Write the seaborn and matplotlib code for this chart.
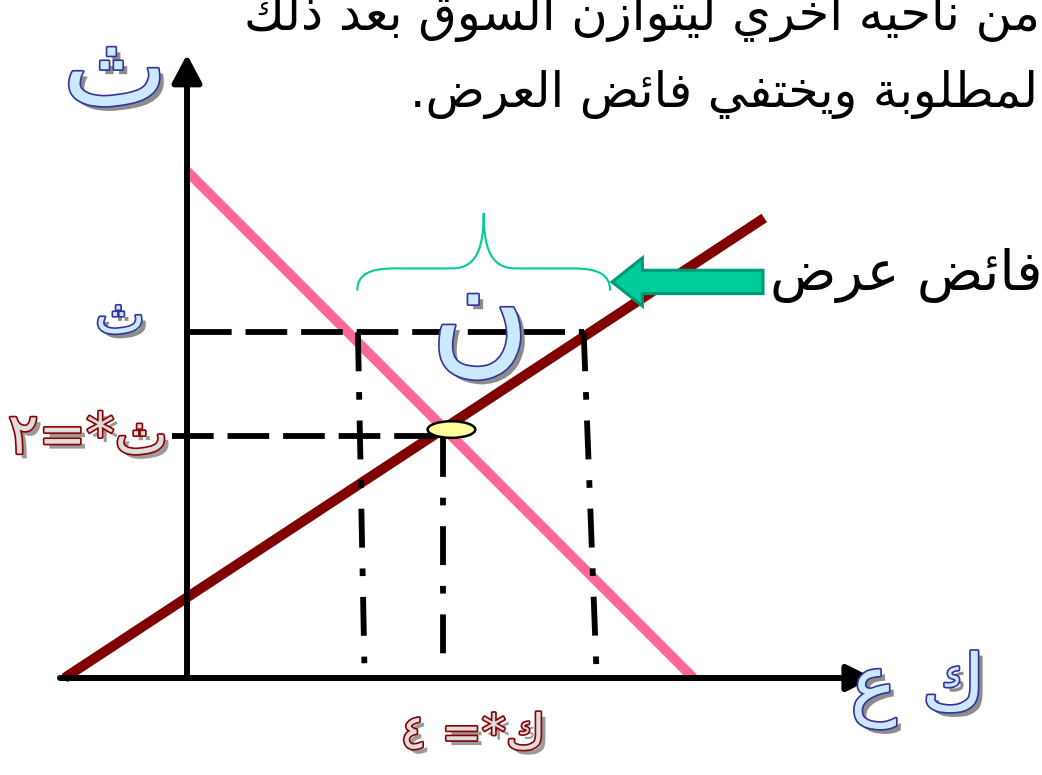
import matplotlib
matplotlib.use("Agg")
import matplotlib.pyplot as plt
import matplotlib.patheffects as pe
from matplotlib.patches import Ellipse, FancyArrow, PathPatch
from matplotlib.path import Path
import seaborn as sns
import pandas as pd

# ---------------- data (economic units: Q quantity, P price) ----------------
supply_q = [-1.9, 8.95]
supply_p = [0.0, 3.74]
demand_q = [0.0, 7.85]
demand_p = [4.12, 0.0]
eq_q, eq_p = 4.0, 2.0          # equilibrium  ك* = ٤ , ث* = ٢
p_high = 2.81                   # price above equilibrium
qd_high = [2.65, 2.75]          # quantity demanded at p_high (top, bottom)
qs_high = [6.15, 6.35]          # quantity supplied at p_high (top, bottom)

title_lines = ["من ناحيه أخري ليتوازن السوق بعد ذلك",
               "المطلوبة ويختفي فائض العرض."]
surplus_label = "فائض عرض"
price_axis = "ث"
qty_axis = "ك ع"
price_high_label = "ث"
eq_price_label = "ث*=٢"
eq_qty_label = "ك*= ٤"
gap_label = "ن"

# ---------------- minimal Arabic shaping (presentation forms, RTL) ----------
FORMS = {
    'ا': ('\uFE8D', '\uFE8E', None, None), 'أ': ('\uFE83', '\uFE84', None, None),
    'ب': ('\uFE8F', '\uFE90', '\uFE91', '\uFE92'), 'ة': ('\uFE93', '\uFE94', None, None),
    'ت': ('\uFE95', '\uFE96', '\uFE97', '\uFE98'), 'ث': ('\uFE99', '\uFE9A', '\uFE9B', '\uFE9C'),
    'ح': ('\uFEA1', '\uFEA2', '\uFEA3', '\uFEA4'), 'خ': ('\uFEA5', '\uFEA6', '\uFEA7', '\uFEA8'),
    'د': ('\uFEA9', '\uFEAA', None, None), 'ذ': ('\uFEAB', '\uFEAC', None, None),
    'ر': ('\uFEAD', '\uFEAE', None, None), 'ز': ('\uFEAF', '\uFEB0', None, None),
    'س': ('\uFEB1', '\uFEB2', '\uFEB3', '\uFEB4'), 'ض': ('\uFEBD', '\uFEBE', '\uFEBF', '\uFEC0'),
    'ط': ('\uFEC1', '\uFEC2', '\uFEC3', '\uFEC4'), 'ع': ('\uFEC9', '\uFECA', '\uFECB', '\uFECC'),
    'ف': ('\uFED1', '\uFED2', '\uFED3', '\uFED4'), 'ق': ('\uFED5', '\uFED6', '\uFED7', '\uFED8'),
    'ك': ('\uFED9', '\uFEDA', '\uFEDB', '\uFEDC'), 'ل': ('\uFEDD', '\uFEDE', '\uFEDF', '\uFEE0'),
    'م': ('\uFEE1', '\uFEE2', '\uFEE3', '\uFEE4'), 'ن': ('\uFEE5', '\uFEE6', '\uFEE7', '\uFEE8'),
    'ه': ('\uFEE9', '\uFEEA', '\uFEEB', '\uFEEC'), 'و': ('\uFEED', '\uFEEE', None, None),
    'ي': ('\uFEF1', '\uFEF2', '\uFEF3', '\uFEF4'), 'ئ': ('\uFE89', '\uFE8A', '\uFE8B', '\uFE8C'),
}


def shape(s):
    out = []
    n = len(s)
    for i, c in enumerate(s):
        if c not in FORMS:
            out.append(c)
            continue
        f = FORMS[c]
        prev = s[i - 1] if i > 0 else None
        nxt = s[i + 1] if i < n - 1 else None
        jp = prev in FORMS and FORMS[prev][2] is not None
        jn = f[2] is not None and nxt in FORMS
        if jp and jn:
            g = f[3]
        elif jp:
            g = f[1]
        elif jn:
            g = f[2]
        else:
            g = f[0]
        out.append(g)
    return ''.join(reversed(out))


# ---------------- figure / axes ----------------
sns.set_theme(style="white")
plt.rcParams['font.family'] = ['DejaVu Sans']
plt.rcParams['lines.scale_dashes'] = False

W, H = 1042, 775
fig = plt.figure(figsize=(W / 100, H / 100), dpi=100)
ax = fig.add_axes([0, 0, 1, 1])
ORX, ORY, SX, SY = 187, 678, 64.5, 123.0   # pixel origin and pixels per unit
ax.set_xlim(-ORX / SX, (W - ORX) / SX)
ax.set_ylim((ORY - H) / SY, ORY / SY)
ax.axis("off")


def px(x, y):
    return x / W, 1 - y / H


# supply & demand curves
sns.lineplot(x=supply_q, y=supply_p, ax=ax, color="#800000", linewidth=7.2,
             solid_capstyle="butt", zorder=3)
sns.lineplot(x=demand_q, y=demand_p, ax=ax, color="#ff6699", linewidth=7.2,
             solid_capstyle="butt", zorder=3)

# guides
dash = (0, (30, 10))
dashdot = (0, (28, 15, 5.5, 15))
ax.plot([0.05, qs_high[0]], [p_high, p_high], color="black", lw=4.2,
        linestyle=dash, dash_capstyle="butt", zorder=4)
ax.plot([-0.23, eq_q], [eq_p - 0.03, eq_p - 0.03], color="black", lw=4.2,
        linestyle=dash, dash_capstyle="butt", zorder=4)
ax.plot(qd_high, [p_high, 0.12], color="black", lw=4.2, linestyle=dashdot,
        dash_capstyle="butt", zorder=4)
ax.plot([eq_q - 0.03, eq_q - 0.03], [eq_p - 0.05, 0.12], color="black", lw=4.2,
        linestyle=dashdot, dash_capstyle="butt", zorder=4)
ax.plot(qs_high, [p_high, 0.03], color="black", lw=4.2, linestyle=dashdot,
        dash_capstyle="butt", zorder=4)

# axes with arrows
ax.annotate("", xy=(0, 5.07), xytext=(0, 0),
            arrowprops=dict(arrowstyle="-|>,head_length=0.85,head_width=0.45",
                            lw=4.3, color="black", mutation_scale=20,
                            shrinkA=0, shrinkB=0), zorder=5)
ax.annotate("", xy=(10.64, 0), xytext=(-1.97, 0),
            arrowprops=dict(arrowstyle="-|>,head_length=0.8,head_width=0.4",
                            lw=4.3, color="black", mutation_scale=20,
                            shrinkA=0, shrinkB=0), zorder=5)

# equilibrium marker
ax.add_patch(Ellipse((eq_q + 0.1, eq_p + 0.02), width=0.74, height=0.135,
                     facecolor="#ffff99", edgecolor="black", lw=1.8, zorder=6))

# brace over the surplus
qL, qR = qd_high[0] - 0.01, qs_high[0] + 0.41
pb, pm, pt = 3.15, 3.33, 3.78
k = (qR - qL) / 2
mid = (qL + qR) / 2
verts = [(qL, pb), (qL, pb + 0.75 * (pm - pb)), (qL + 0.1 * k, pm), (qL + 0.3 * k, pm),
         (mid - 0.25 * k, pm),
         (mid - 0.05 * k, pm), (mid, pm + 0.4 * (pt - pm)), (mid, pt),
         (mid, pm + 0.4 * (pt - pm)), (mid + 0.05 * k, pm), (mid + 0.25 * k, pm),
         (qR - 0.3 * k, pm),
         (qR - 0.1 * k, pm), (qR, pb + 0.75 * (pm - pb)), (qR, pb)]
codes = [Path.MOVETO, Path.CURVE4, Path.CURVE4, Path.CURVE4, Path.LINETO,
         Path.CURVE4, Path.CURVE4, Path.CURVE4,
         Path.CURVE4, Path.CURVE4, Path.CURVE4, Path.LINETO,
         Path.CURVE4, Path.CURVE4, Path.CURVE4]
ax.add_patch(PathPatch(Path(verts, codes), facecolor="none", edgecolor="#00cc99",
                       lw=1.5, zorder=4))

# green block arrow pointing to the brace
ax.add_patch(FancyArrow(8.93, 3.22, -2.34, 0, width=0.19, head_width=0.39,
                        head_length=0.47, length_includes_head=True,
                        facecolor="#00cc99", edgecolor="#009977", lw=2.2, zorder=6))

renderer = fig.canvas.get_renderer()


def fit(t, target_w):
    w = t.get_window_extent(renderer).width
    t.set_fontsize(t.get_fontsize() * target_w / w)
    return t


# plain black texts
fit(fig.text(*px(1040, 30), shape(title_lines[0]), ha="right", va="baseline",
             fontsize=30, color="black"), 795)
fit(fig.text(*px(1052, 107), shape(title_lines[1]), ha="right", va="baseline",
             fontsize=30, color="black"), 642)
fit(fig.text(*px(1042, 290), shape(surplus_label), ha="right", va="baseline",
             fontsize=30, color="black", zorder=7), 272)

blue_fx = [pe.SimplePatchShadow(offset=(3.5, -3.5), shadow_rgbFace="#808080", alpha=0.9),
           pe.Stroke(linewidth=2.4, foreground="#333399"), pe.Normal()]
red_fx = [pe.SimplePatchShadow(offset=(3.5, -3.5), shadow_rgbFace="#909090", alpha=0.9),
          pe.Stroke(linewidth=2.4, foreground="#8b0000"), pe.Normal()]


def wordart(s, cx, cy, w, face, fx):
    t = fig.text(*px(cx, cy), shape(s), ha="center", va="center", fontsize=40,
                 color=face, path_effects=fx, zorder=8)
    return fit(t, w)


wordart(price_axis, 115, 74, 105, "#cce8ff", blue_fx)
wordart(price_high_label, 120, 318, 50, "#cce8ff", blue_fx)
wordart(gap_label, 480, 320, 100, "#cce8ff", blue_fx)
wordart(qty_axis, 918, 690, 135, "#cce8ff", blue_fx)
wordart(eq_price_label, 88, 438, 160, "#dddddd", red_fx)
wordart(eq_qty_label, 473, 735, 145, "#dddddd", red_fx)

fig.savefig("out.png", dpi=100)
